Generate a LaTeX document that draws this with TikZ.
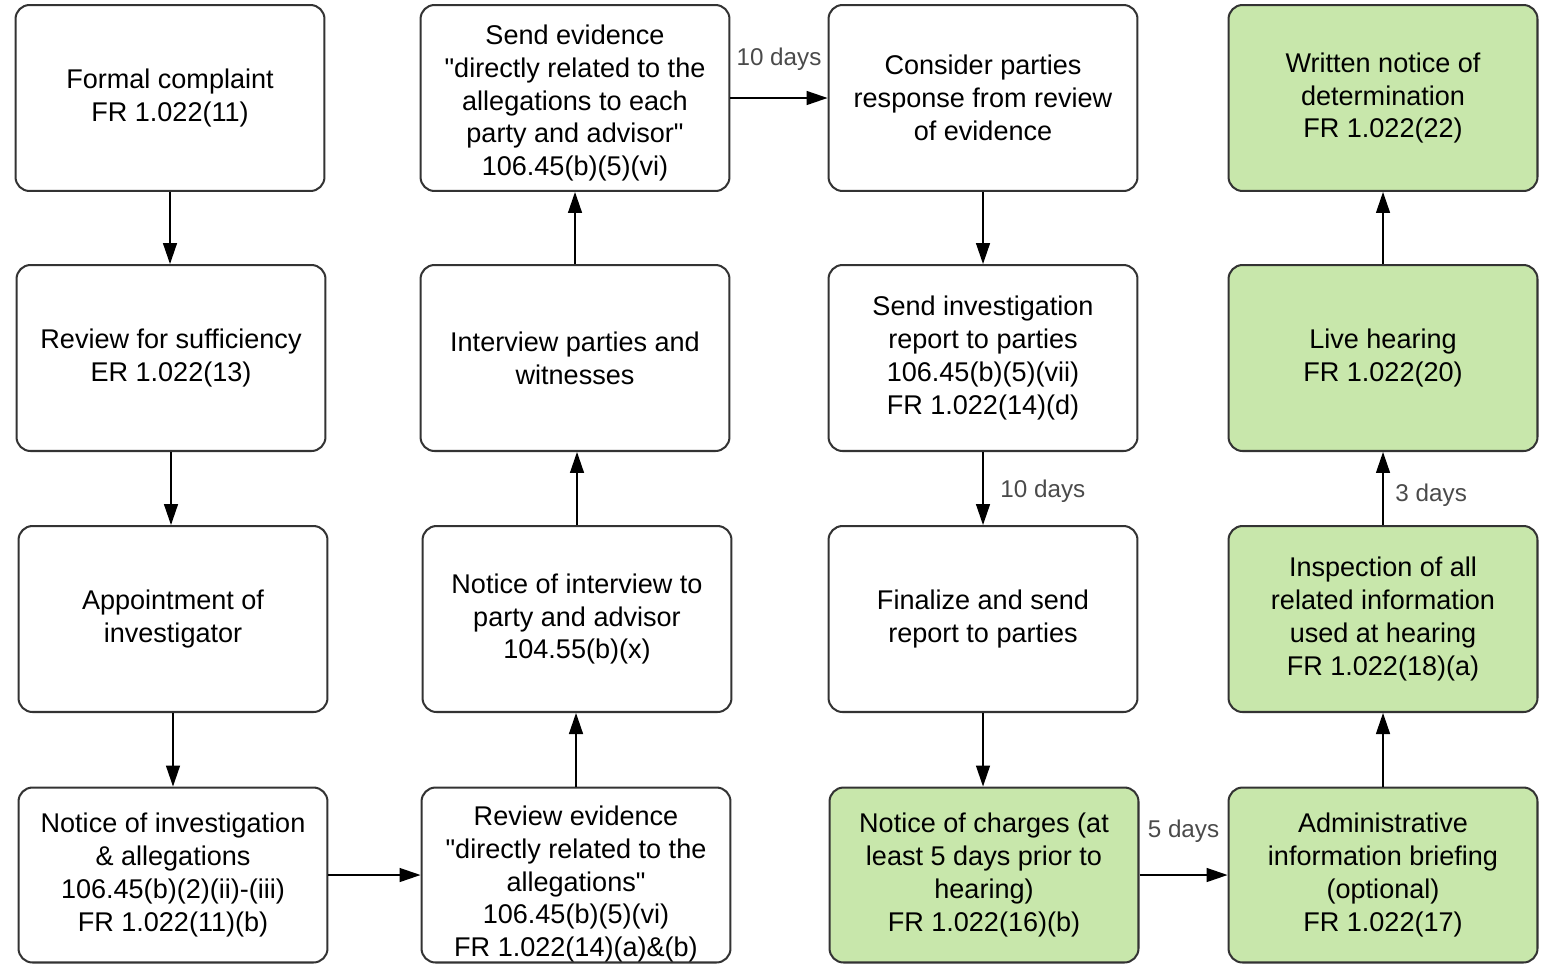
\documentclass[tikz,border=0pt]{standalone}
\usepackage{fontspec}
\setmainfont{Liberation Sans}
\usetikzlibrary{arrows.meta}
\definecolor{stepgreen}{HTML}{C8E7AB}
\definecolor{edgegray}{HTML}{333333}
\definecolor{daygray}{HTML}{4A4A4A}
\newcommand{\qt}{\XeTeXglyph\XeTeXcharglyph"22\relax}
\begin{document}
\begin{tikzpicture}[x=0.02cm,y=-0.02cm,
  boxtext/.style={align=center,font=\fontsize{15.4}{18.7}\selectfont,inner sep=2pt},
  box/.style={boxtext,draw=edgegray,line width=1.15pt,rounded corners=0.28cm,fill=white,
    minimum width=6.18cm,minimum height=3.72cm},
  lowbox/.style={box,minimum height=3.5cm},
  green/.style={fill=stepgreen},
  arr/.style={draw=black,line width=0.8pt,-{Triangle[length=0.42cm,width=0.28cm]}},
  days/.style={text=daygray,font=\fontsize{13.8}{16}\selectfont,inner sep=1pt}]
\useasboundingbox (0,0) rectangle (1550,964);
% first column
\node[box] (complaint) at (170,98) {Formal complaint\\FR 1.022(11)};
\node[box] (review) at (171,358) {Review for sufficiency\\ER 1.022(13)};
\node[box] (appoint) at (173,619) {Appointment of\\investigator};
\node[lowbox] (notice) at (173,875) {Notice of investigation\\\& allegations\\106.45(b)(2)(ii)-(iii)\\FR 1.022(11)(b)};
% second column
\node[lowbox] (revevid) at (576,875) {};
\node[boxtext] (revevidtext) at ([yshift=-9*0.02cm]revevid.center) {Review evidence\\\qt directly related to the\\allegations\qt\\106.45(b)(5)(vi)\\FR 1.022(14)(a)\&(b)};
\node[box] (intnotice) at (577,619) {Notice of interview to\\party and advisor\\104.55(b)(x)};
\node[box] (interview) at (575,358) {Interview parties and\\witnesses};
\node[box] (sendevid) at (575,98) {};
\node[boxtext] (sendevidtext) at ([yshift=-5*0.02cm]sendevid.center) {Send evidence\\\qt directly related to the\\allegations to each\\party and advisor\qt\\106.45(b)(5)(vi)};
% third column
\node[box] (consider) at (983,98) {Consider parties\\response from review\\of evidence};
\node[box] (sendrep) at (983,358) {Send investigation\\report to parties\\106.45(b)(5)(vii)\\FR 1.022(14)(d)};
\node[box] (finalize) at (983,619) {Finalize and send\\report to parties};
\node[lowbox,green] (charges) at (984,875) {Notice of charges (at\\least 5 days prior to\\hearing)\\FR 1.022(16)(b)};
% fourth column
\node[lowbox,green] (briefing) at (1383,875) {Administrative\\information briefing\\(optional)\\FR 1.022(17)};
\node[box,green] (inspect) at (1383,619) {Inspection of all\\related information\\used at hearing\\FR 1.022(18)(a)};
\node[box,green] (hearing) at (1383,358) {Live hearing\\FR 1.022(20)};
\node[box,green] (written) at (1383,98) {Written notice of\\determination\\FR 1.022(22)};
% connectors
\draw[arr] (complaint.south) -- (complaint.south |- review.north);
\draw[arr] (review.south) -- (review.south |- appoint.north);
\draw[arr] (appoint.south) -- (appoint.south |- notice.north);
\draw[arr] (notice.east) -- (notice.east -| revevid.west);
\draw[arr] (revevid.north) -- (revevid.north |- intnotice.south);
\draw[arr] (intnotice.north) -- (intnotice.north |- interview.south);
\draw[arr] (interview.north) -- (interview.north |- sendevid.south);
\draw[arr] (sendevid.east) -- node[days,above=0.5cm] {10 days} (sendevid.east -| consider.west);
\draw[arr] (consider.south) -- (consider.south |- sendrep.north);
\draw[arr] (sendrep.south) -- node[days,right=0.3cm,yshift=-0.06cm] {10 days} (sendrep.south |- finalize.north);
\draw[arr] (finalize.south) -- (finalize.south |- charges.north);
\draw[arr] (charges.east) -- node[days,above=0.6cm] {5 days} (charges.east -| briefing.west);
\draw[arr] (briefing.north) -- (briefing.north |- inspect.south);
\draw[arr] (inspect.north) -- node[days,right=0.2cm,yshift=-0.13cm] {3 days} (inspect.north |- hearing.south);
\draw[arr] (hearing.north) -- (hearing.north |- written.south);
\end{tikzpicture}
\end{document}
